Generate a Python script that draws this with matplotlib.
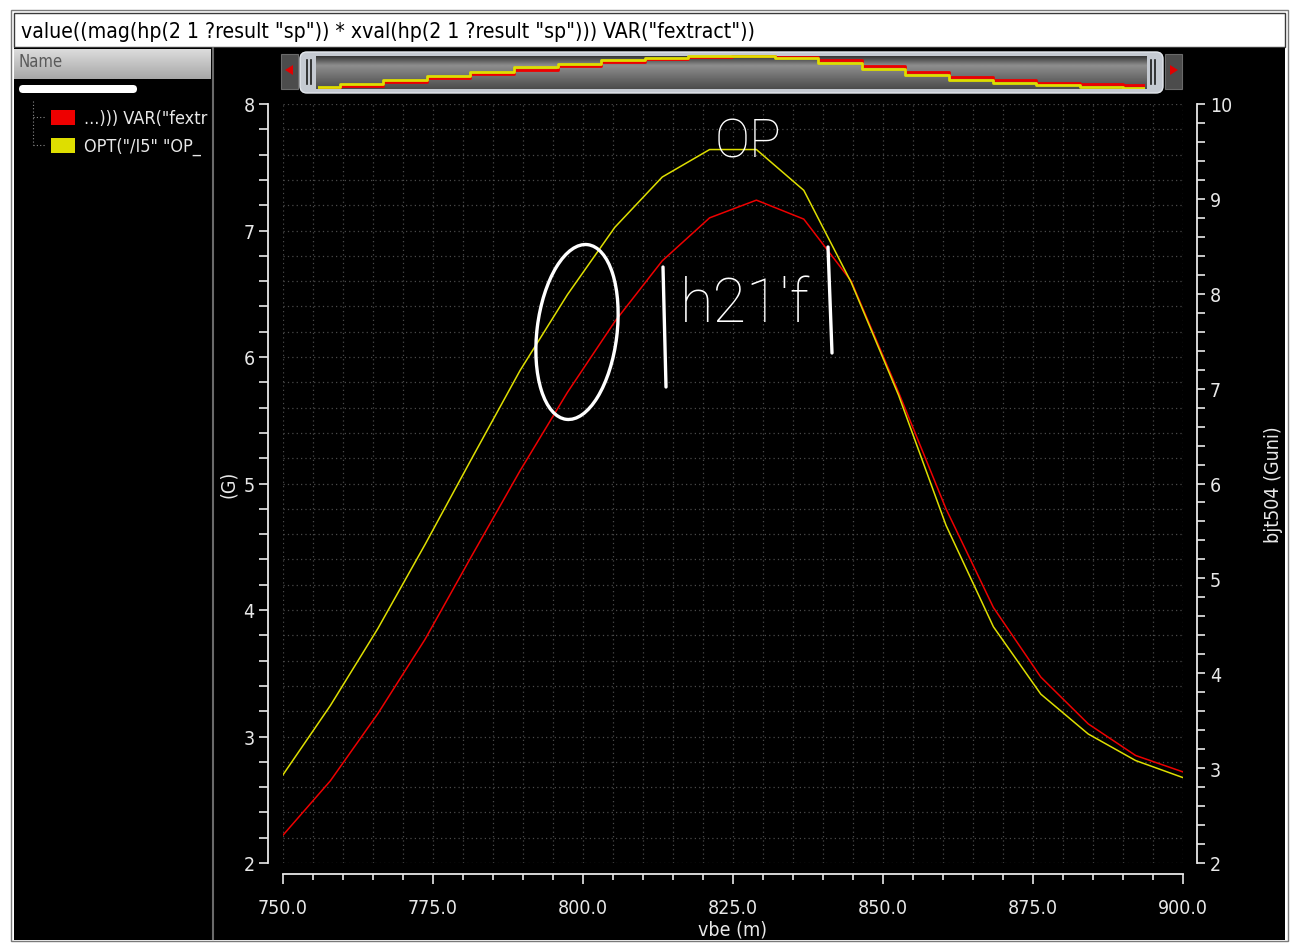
import numpy as np
import matplotlib.pyplot as plt
from matplotlib.patches import Rectangle, Ellipse, FancyBboxPatch, Polygon
from matplotlib.ticker import MultipleLocator, FormatStrFormatter

W, H = 1293, 945

# sweep of vbe (mV) and the two traces
vbe = [750.0, 757.9, 765.8, 773.7, 781.6, 789.5, 797.4, 805.3, 813.2, 821.1,
       828.9, 836.8, 844.7, 852.6, 860.5, 868.4, 876.3, 884.2, 892.1, 900.0]
fextract = [2.22, 2.65, 3.18, 3.77, 4.44, 5.10, 5.72, 6.28, 6.76, 7.10,
            7.24, 7.09, 6.60, 5.72, 4.80, 4.02, 3.47, 3.10, 2.85, 2.72]
ft_op = [2.93, 3.66, 4.47, 5.36, 6.28, 7.19, 7.99, 8.70, 9.23, 9.52,
         9.52, 9.09, 8.12, 6.93, 5.56, 4.49, 3.78, 3.36, 3.08, 2.90]

title_expr = 'value((mag(hp(2 1 ?result "sp")) * xval(hp(2 1 ?result "sp"))) VAR("fextract"))'
trace_names = ['...))) VAR("fextr', 'OPT("/I5" "OP_']
xticks = [750, 775, 800, 825, 850, 875, 900]

RED = '#ee0000'
YEL = '#dede00'
FG = '#e8e8e8'
FONT = dict(family='DejaVu Sans', stretch='condensed')

fig = plt.figure(figsize=(W / 100, H / 100), dpi=100, facecolor='white')


def box(x0, y0, x1, y1):
    return [x0 / W, 1 - y1 / H, (x1 - x0) / W, (y1 - y0) / H]


# window chrome in pixel coordinates
bg = fig.add_axes([0, 0, 1, 1])
bg.set_xlim(0, W)
bg.set_ylim(H, 0)
bg.axis('off')
bg.add_patch(Rectangle((11, 11), 1277, 931, fc='white', ec='#7a7a7a', lw=1))
bg.add_patch(Rectangle((14, 14), 1271, 34, fc='white', ec='#3a3a3a', lw=1))
bg.text(21, 32, title_expr, fontsize=15.2, color='black', va='center', **FONT)
bg.add_patch(Rectangle((14, 49), 1271, 892, fc='black', ec='none'))

# overview strip above the plot
bg.add_patch(Rectangle((281, 55), 17, 35, fc='#4c4c4c', ec='#6a6a6a', lw=0.8))
bg.add_patch(Rectangle((1165, 55), 17, 35, fc='#4c4c4c', ec='#6a6a6a', lw=0.8))
bg.add_patch(Polygon([[285, 71], [293, 66], [293, 76]], fc='#e00000', ec='none'))
bg.add_patch(Polygon([[1178, 71], [1170, 66], [1170, 76]], fc='#e00000', ec='none'))
bg.add_patch(FancyBboxPatch((300, 53), 863, 41, boxstyle='round,pad=0,rounding_size=7',
                            fc='#c5cad2', ec='#e4e8ee', lw=1))
grad = np.concatenate([np.linspace(0.22, 0.55, 10), np.linspace(0.55, 0.30, 24)])
bg.imshow(grad[:, None], cmap='gray', vmin=0, vmax=1, aspect='auto',
          extent=(316, 1147, 90, 57), interpolation='bilinear', zorder=3)
for hx in (307, 311, 1151, 1155):
    bg.plot([hx, hx], [61, 85], color='#1a1a1a', lw=1.2, zorder=4)

mini = fig.add_axes(box(318, 56, 1145, 90))
mini.patch.set_alpha(0)
mini.axis('off')
mini.plot(vbe, fextract, color=RED, lw=2, drawstyle='steps-mid')
mini.set_xlim(750, 900)
mini.set_ylim(min(fextract) - 0.1, max(fextract) + 0.2)
mini2 = mini.twinx()
mini2.axis('off')
mini2.plot(vbe, ft_op, color=YEL, lw=2, drawstyle='steps-mid')
mini2.set_ylim(min(ft_op) - 0.3, max(ft_op) + 0.3)

# trace list panel on the left
side = fig.add_axes(box(14, 49, 210, 940))
side.set_xlim(14, 210)
side.set_ylim(940, 49)
side.axis('off')
side.add_patch(Rectangle((14, 49), 199, 891, fc='black', ec='none'))
head = np.linspace(0.86, 0.66, 20)
side.imshow(head[:, None], cmap='gray', vmin=0, vmax=1, aspect='auto',
            extent=(14, 213, 80, 50), interpolation='bilinear', zorder=3)
side.text(18, 62, 'Name', fontsize=12, color='#5a5a5a', va='center', zorder=4, **FONT)
side.add_patch(FancyBboxPatch((19, 86), 118, 8, boxstyle='round,pad=0,rounding_size=4',
                              fc='white', ec='none'))
side.plot([33, 33], [102, 146], color='#8a8a8a', lw=0.8, ls=(0, (1, 2)))
for yy, col, name in zip([118, 146], [RED, YEL], trace_names):
    side.plot([33, 46], [yy, yy], color='#8a8a8a', lw=0.8, ls=(0, (1, 2)))
    side.add_patch(Rectangle((51, yy - 7), 24, 15, fc=col, ec='none'))
    side.text(84, yy + 1, name, fontsize=13, color=FG, va='center', **FONT)
bg.plot([212.5, 212.5], [49, 940], color='#6a6a6a', lw=1.5)

# main plot
ax = fig.add_axes(box(283, 105, 1183, 864))
ax.set_facecolor('black')
ax.plot(vbe, fextract, color=RED, lw=1.1)
ax.set_xlim(750, 900)
ax.set_ylim(2, 8)
ax2 = ax.twinx()
ax2.plot(vbe, ft_op, color=YEL, lw=1.1)
ax2.set_ylim(2, 10)

ax.set_xticks(xticks)
ax.xaxis.set_major_formatter(FormatStrFormatter('%.1f'))
ax.xaxis.set_minor_locator(MultipleLocator(5))
ax.yaxis.set_major_locator(MultipleLocator(1))
ax.yaxis.set_minor_locator(MultipleLocator(0.2))
ax2.yaxis.set_major_locator(MultipleLocator(1))
ax2.yaxis.set_minor_locator(MultipleLocator(0.2))

ax.grid(which='both', color='#4a4a4a', lw=0.9, ls=(0, (1, 2.5)))
ax.set_axisbelow(True)

for s in ('top', 'right'):
    ax.spines[s].set_visible(False)
for s in ('top', 'left', 'bottom'):
    ax2.spines[s].set_visible(False)
ax.spines['left'].set_position(('outward', 11))
ax.spines['bottom'].set_position(('outward', 8))
ax2.spines['right'].set_position(('outward', 10))
for sp in (ax.spines['left'], ax.spines['bottom'], ax2.spines['right']):
    sp.set_color(FG)
    sp.set_linewidth(1.3)

ax.tick_params(axis='y', which='both', direction='out', length=6.5, width=1.2,
               color=FG, labelcolor=FG, labelsize=14, pad=3)
ax.tick_params(axis='x', which='major', direction='out', length=7.5, width=1.2,
               color=FG, labelcolor=FG, labelsize=14, pad=9.5)
ax.tick_params(axis='x', which='minor', direction='out', length=4.5, width=1.2, color=FG)
ax2.tick_params(axis='y', which='both', direction='out', length=5.5, width=1.2,
                color=FG, labelcolor=FG, labelsize=14, pad=4)
for lab in ax.get_xticklabels() + ax.get_yticklabels() + ax2.get_yticklabels():
    lab.set_fontstretch('condensed')

ax.set_xlabel('vbe (m)', color=FG, fontsize=14, labelpad=2, **FONT)
ax.set_ylabel('(G)', color=FG, fontsize=14, labelpad=4, **FONT)
ax2.set_ylabel('bjt504 (Guni)', color=FG, fontsize=14, labelpad=23, **FONT)

# hand-drawn notes on top
note = fig.add_axes([0, 0, 1, 1])
note.set_xlim(0, W)
note.set_ylim(H, 0)
note.axis('off')
note.patch.set_alpha(0)
note.add_patch(Ellipse((577, 333), 80, 176, angle=7, fc='none', ec='white', lw=2.4))
hand = dict(color='white', family=['Roboto', 'DejaVu Sans'], fontweight='light')
note.text(748, 143, 'OP', fontsize=38, ha='center', va='center', **hand)
note.text(745, 305, 'h21\'f', fontsize=44, ha='center', va='center', **hand)
note.plot([663, 666], [268, 388], color='white', lw=2.4, solid_capstyle='round')
note.plot([828, 832], [248, 354], color='white', lw=2.4, solid_capstyle='round')

fig.savefig('out.png', dpi=100, facecolor=fig.get_facecolor())
